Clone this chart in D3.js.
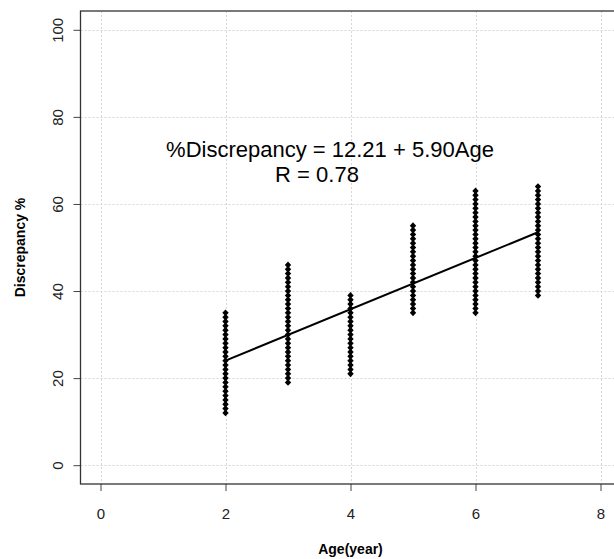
<!DOCTYPE html>
<html>
<head>
<meta charset="utf-8">
<script src="https://cdn.jsdelivr.net/npm/d3@7"></script>
<style>
  body { margin: 0; background: #fff; }
  svg { display: block; font-family: "Liberation Sans", Arial, sans-serif; }
</style>
</head>
<body>
<div id="chart"></div>
<script>
/// DATA
const ages = [2, 3, 4, 5, 6, 7];
const disc2 = [12,13,14,15,16,17,18,19,20,21,22,23,24,25,26,27,28,29,30,31,32,33,34,35];
const disc3 = [19,20,21,22,23,24,25,26,27,28,29,30,31,32,33,34,35,36,37,38,39,40,41,42,43,44,45,46];
const disc4 = [21,22,23,24,25,26,27,28,29,30,31,32,33,34,35,36,37,38,39];
const disc5 = [35,36,37,38,39,40,41,42,43,44,45,46,47,48,49,50,51,52,53,54,55];
const disc6 = [35,36,37,38,39,40,41,42,43,44,45,46,47,48,49,50,51,52,53,54,55,56,57,58,59,60,61,62,63];
const disc7 = [39,40,41,42,43,44,45,46,47,48,49,50,51,52,53,54,55,56,57,58,59,60,61,62,63,64];
const xTicks = [0, 2, 4, 6, 8];
const yTicks = [0, 20, 40, 60, 80, 100];
const fitIntercept = 12.21;
const fitSlope = 5.90;
const fitRange = [2, 7];
const eqText = "%Discrepancy = 12.21 + 5.90Age";
const rText = "R = 0.78";

const columns = [disc2, disc3, disc4, disc5, disc6, disc7];
const points = [];
columns.forEach((vals, i) => vals.forEach(v => points.push({age: ages[i], d: v})));

const width = 614, height = 559;
const plot = {left: 80.5, right: 620.5, top: 11, bottom: 484};

/// SETUP scales (R style 4% padding)
let x = d3.scaleLinear().domain([-0.32, 8.32]).range([plot.left, plot.right]);
let y = d3.scaleLinear().domain([-4.32, 104.32]).range([plot.bottom, plot.top]);

/// CREATE SVG
let svg = d3.select('#chart')
  .append('svg')
  .attr('width', width)
  .attr('height', height);

/// GRID
let grid = svg.append('g')
  .attr('stroke', '#d6d6d6')
  .attr('stroke-width', 1)
  .attr('stroke-dasharray', '2,2');

grid.selectAll('.vgrid')
  .data(xTicks)
  .join('line')
  .attr('x1', d => Math.round(x(d)) + 0.5)
  .attr('x2', d => Math.round(x(d)) + 0.5)
  .attr('y1', plot.top)
  .attr('y2', plot.bottom);

grid.selectAll('.hgrid')
  .data(yTicks)
  .join('line')
  .attr('y1', d => Math.round(y(d)) + 0.5)
  .attr('y2', d => Math.round(y(d)) + 0.5)
  .attr('x1', plot.left)
  .attr('x2', plot.right);

/// DISPLAY axes
let xAxis = svg.append('g')
  .attr('transform', `translate(0,${plot.bottom})`)
  .call(d3.axisBottom(x).tickValues(xTicks).tickSize(7).tickPadding(17).tickFormat(d3.format('d')));
xAxis.select('.domain').remove();
xAxis.selectAll('line').attr('stroke', '#444');
xAxis.selectAll('text')
  .style('font-size', '15px')
  .style('fill', '#222')
  .style('font-family', '"Liberation Sans", Arial, sans-serif');

let yAxis = svg.append('g')
  .attr('transform', `translate(${plot.left},0)`)
  .call(d3.axisLeft(y).tickValues(yTicks).tickSize(7).tickFormat(d3.format('d')));
yAxis.select('.domain').remove();
yAxis.selectAll('line').attr('stroke', '#444');
yAxis.selectAll('text')
  .attr('x', null)
  .attr('dy', null)
  .attr('transform', 'translate(-18,0) rotate(-90)')
  .attr('text-anchor', 'middle')
  .attr('y', 0)
  .style('font-size', '15px')
  .style('fill', '#222')
  .style('font-family', '"Liberation Sans", Arial, sans-serif');

/// BOX
svg.append('rect')
  .attr('x', plot.left)
  .attr('y', plot.top)
  .attr('width', plot.right - plot.left)
  .attr('height', plot.bottom - plot.top)
  .attr('fill', 'none')
  .attr('stroke', '#333')
  .attr('stroke-width', 1.3);

/// POINTS (filled diamonds)
const diamond = 'M0,-3.4L3.2,0L0,3.4L-3.2,0Z';
svg.append('g')
  .selectAll('path')
  .data(points)
  .join('path')
  .attr('d', diamond)
  .attr('transform', d => `translate(${x(d.age)},${y(d.d)})`)
  .attr('fill', '#000');

/// FIT line
svg.append('line')
  .attr('x1', x(fitRange[0]))
  .attr('y1', y(fitIntercept + fitSlope * fitRange[0]))
  .attr('x2', x(fitRange[1]))
  .attr('y2', y(fitIntercept + fitSlope * fitRange[1]))
  .attr('stroke', '#000')
  .attr('stroke-width', 2);

/// ANNOTATION
svg.append('text')
  .attr('x', 330)
  .attr('y', 157)
  .attr('text-anchor', 'middle')
  .style('font-size', '22px')
  .text(eqText);

svg.append('text')
  .attr('x', 317)
  .attr('y', 182)
  .attr('text-anchor', 'middle')
  .style('font-size', '22px')
  .text(rText);

/// TITLES
svg.append('text')
  .attr('x', (plot.left + plot.right) / 2)
  .attr('y', 554)
  .attr('text-anchor', 'middle')
  .style('font-size', '14px')
  .style('font-weight', 'bold')
  .text('Age(year)');

svg.append('text')
  .attr('transform', `translate(25,${(plot.top + plot.bottom) / 2}) rotate(-90)`)
  .attr('text-anchor', 'middle')
  .style('font-size', '14px')
  .style('font-weight', 'bold')
  .text('Discrepancy %');
</script>
</body>
</html>
